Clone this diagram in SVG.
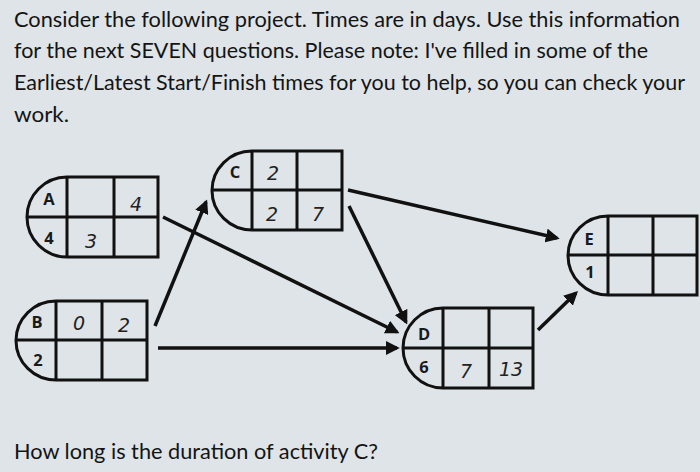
<svg xmlns="http://www.w3.org/2000/svg" width="700" height="472" viewBox="0 0 700 472">
<defs>
<style>
.t{font-family:Lato,"Open Sans",sans-serif;font-size:21px;fill:#141414}
.box{fill:none;stroke:#111;stroke-width:3}
.lbl{font-family:"Open Sans","Liberation Sans",sans-serif;font-weight:bold;font-size:16.5px;fill:#1a1a1a;text-anchor:middle}
.hw{font-family:"DejaVu Sans",sans-serif;font-weight:200;font-size:19px;fill:#222;text-anchor:middle;font-style:italic}
.c{stroke:#111;stroke-width:3.5;fill:none}
</style>
<marker id="ah" viewBox="0 0 10 10" refX="8" refY="5" markerWidth="4" markerHeight="4" orient="auto" markerUnits="strokeWidth">
<path d="M0,0 L10,5 L0,10 z" fill="#111"/>
</marker>
</defs>
<rect width="700" height="472" fill="#dee4e7"/>
<g id="text">
<text class="t" x="14" y="27" textLength="666" lengthAdjust="spacingAndGlyphs">Consider the following project.  Times are in days.  Use this information</text>
<text class="t" x="14" y="58" textLength="634" lengthAdjust="spacingAndGlyphs">for the next SEVEN questions. Please note: I've filled in some of the</text>
<text class="t" x="14" y="90" textLength="671" lengthAdjust="spacingAndGlyphs">Earliest/Latest Start/Finish times for you to help, so you can check your</text>
<text class="t" x="14" y="122" textLength="55" lengthAdjust="spacingAndGlyphs">work.</text>
<text class="t" x="14" y="459" textLength="364" lengthAdjust="spacingAndGlyphs">How long is the duration of activity C?</text>
</g>
<g id="connectors">
<line class="c" x1="163" y1="217" x2="397" y2="332" marker-end="url(#ah)"/>
<line class="c" x1="155" y1="326" x2="206" y2="202" marker-end="url(#ah)"/>
<line class="c" x1="158" y1="348" x2="397" y2="348" marker-end="url(#ah)"/>
<line class="c" x1="348" y1="190" x2="557" y2="238" marker-end="url(#ah)"/>
<line class="c" x1="349" y1="206" x2="406" y2="322" marker-end="url(#ah)"/>
<line class="c" x1="538" y1="330" x2="576" y2="293" marker-end="url(#ah)"/>
</g>
<g id="node-A">
<path class="box" d="M67,177 A40,40 0 0 0 67,257 H158 V177 Z M27,217 H158 M67,177 V257 M114,177 V257"/>
<text class="lbl" x="49" y="205">A</text>
<text class="lbl" x="49" y="244">4</text>
<text class="hw" x="136" y="211">4</text>
<text class="hw" x="91" y="248">3</text>
</g>
<g id="node-B">
<path class="box" d="M56,301 A40,39.5 0 0 0 56,380 H147 V301 Z M16,340 H147 M56,301 V380 M102,301 V380"/>
<text class="lbl" x="37" y="328">B</text>
<text class="lbl" x="38" y="366">2</text>
<text class="hw" x="79" y="330">0</text>
<text class="hw" x="124" y="332">2</text>
</g>
<g id="node-C">
<path class="box" d="M252,151 A40,39.5 0 0 0 252,230 H342 V151 Z M212,190 H342 M252,151 V230 M297,151 V230"/>
<text class="lbl" x="235" y="178">C</text>
<text class="hw" x="273" y="180">2</text>
<text class="hw" x="272" y="221">2</text>
<text class="hw" x="318" y="221">7</text>
</g>
<g id="node-D">
<path class="box" d="M443,308 A40,40 0 0 0 443,388 H533 V308 Z M403,348 H533 M443,308 V388 M489,308 V388"/>
<text class="lbl" x="424" y="340">D</text>
<text class="lbl" x="424" y="373">6</text>
<text class="hw" x="466" y="378">7</text>
<text class="hw" x="511" y="376">13</text>
</g>
<g id="node-E">
<path class="box" d="M608,216 A40,39.5 0 0 0 608,295 H697 V216 Z M568,255 H697 M608,216 V295 M653,216 V295"/>
<text class="lbl" x="589" y="245">E</text>
<text class="lbl" x="590" y="278">1</text>
</g>
</svg>
